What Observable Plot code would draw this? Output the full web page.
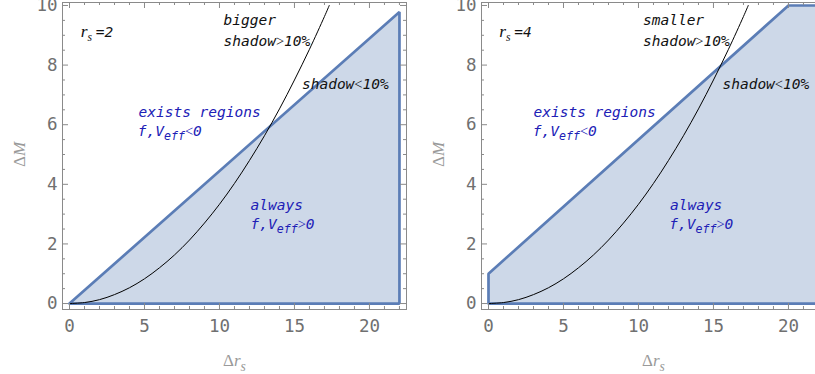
<!DOCTYPE html>
<html>
<head>
<meta charset="utf-8">
<script src="https://cdn.jsdelivr.net/npm/d3@7"></script>
<script src="https://cdn.jsdelivr.net/npm/@observablehq/plot@0.6"></script>
<style>
  html, body { margin: 0; padding: 0; background: #fff; }
  #wrap { position: relative; width: 815px; height: 374px; overflow: hidden; }
  .panel { position: absolute; top: 0; width: 410px; height: 374px; }
  .panel svg { overflow: visible; max-width: none !important; width: 410px; height: 374px; }
</style>
</head>
<body>
<div id="wrap">
  <div class="panel" id="left" style="left:0px"></div>
  <div class="panel" id="right" style="left:419px"></div>
</div>
<script>
// Axis ticks
const xMajor = [0, 5, 10, 15, 20];
const xMinor = [1, 2, 3, 4, 6, 7, 8, 9, 11, 12, 13, 14, 16, 17, 18, 19, 21, 22];
const yMajor = [0, 2, 4, 6, 8, 10];
const yMinor = [0.5, 1, 1.5, 2.5, 3, 3.5, 4.5, 5, 5.5, 6.5, 7, 7.5, 8.5, 9, 9.5];

// Allowed region boundary, r_s = 2
const leftRegionX = [0, 22, 22, 0];
const leftRegionY = [0, 9.78, 0, 0];
// Allowed region boundary, r_s = 4
const rightRegionX = [0, 0, 20, 22, 22, 0];
const rightRegionY = [0, 1, 10, 10, 0, 0];

// 10% shadow boundary curve
const curveX = [0, 1, 2, 3, 4, 5, 6, 7, 8, 9, 10, 11, 12, 13, 14, 15, 16, 17, 17.32];
const curveY = [0, 0.033, 0.13, 0.3, 0.53, 0.83, 1.2, 1.63, 2.13, 2.7, 3.33, 4.03, 4.8, 5.63, 6.53, 7.5, 8.53, 9.63, 10];

// Annotations ($..$ = italic math, ~..~ = upright math, _{..} = subscript)
const leftLabelText  = ["$r$_{$s$}~ ~=2", "bigger", "shadow~>~10%", "shadow~<~10%", "exists regions", "f,V_{eff}~<~0", "always", "f,V_{eff}~>~0"];
const leftLabelX     = [0.75, 10.27, 10.27, 15.5, 4.6, 4.55, 12.07, 12.07];
const leftLabelY     = [9.1, 9.5, 8.8, 7.35, 6.4, 5.77, 3.29, 2.65];
const rightLabelText = ["$r$_{$s$}~ ~=4", "smaller", "shadow~>~10%", "shadow~<~10%", "exists regions", "f,V_{eff}~<~0", "always", "f,V_{eff}~>~0"];
const rightLabelX    = [0.72, 10.3, 10.3, 15.6, 3.0, 2.95, 12.1, 12.05];
const rightLabelY    = [9.1, 9.5, 8.8, 7.35, 6.4, 5.77, 3.29, 2.65];
const labelColor     = ["#111", "#111", "#111", "#111", "#2020b6", "#2020b6", "#2020b6", "#2020b6"];

const xAxisLabel = "~Δ~$r$_{$s$}";
const yAxisLabel = "~Δ~$M$";

const W = 410, H = 374, mL = 62, mR = 4, mT = 2, mB = 65;
const innerW = W - mL - mR, innerH = H - mT - mB;
const frameColor = "#8a8a8a";
const mono = "DejaVu Sans Mono";
const serif = "Liberation Serif";

function zipPts(xs, ys) { return xs.map((x, i) => ({x, y: ys[i]})); }

function panel(regionX, regionY, labText, labX, labY) {
  const region = zipPts(regionX, regionY);
  const curve = zipPts(curveX, curveY);
  const labels = labText.map((t, i) => ({t, x: labX[i], y: labY[i], c: labelColor[i]}));
  return Plot.plot({
    width: W, height: H,
    marginLeft: mL, marginRight: mR, marginTop: mT, marginBottom: mB,
    x: {domain: [-0.467, 22.47]},
    y: {domain: [-0.2, 10.1]},
    style: {background: "transparent", fontFamily: mono},
    marks: [
      Plot.line(region, {x: "x", y: "y", fill: "#cdd8e8", stroke: "#5b7db6", strokeWidth: 2.7, strokeLinejoin: "miter", curve: "linear"}),
      Plot.line(curve, {x: "x", y: "y", stroke: "#000", strokeWidth: 1, curve: "catmull-rom"}),
      Plot.frame({stroke: frameColor, strokeWidth: 1}),
      // inward frame ticks
      Plot.ruleX(xMajor, {stroke: frameColor, insetTop: innerH - 6}),
      Plot.ruleX(xMinor, {stroke: frameColor, insetTop: innerH - 3}),
      Plot.ruleX(xMajor, {stroke: frameColor, insetBottom: innerH - 6}),
      Plot.ruleX(xMinor, {stroke: frameColor, insetBottom: innerH - 3}),
      Plot.ruleY(yMajor, {stroke: frameColor, insetRight: innerW - 6}),
      Plot.ruleY(yMinor, {stroke: frameColor, insetRight: innerW - 3}),
      Plot.ruleY(yMajor, {stroke: frameColor, insetLeft: innerW - 6}),
      Plot.ruleY(yMinor, {stroke: frameColor, insetLeft: innerW - 3}),
      Plot.axisX({ticks: xMajor, tickSize: 0, tickPadding: 10, label: null, fontSize: 17.5, fontFamily: mono, fill: "#707070"}),
      Plot.axisY({ticks: yMajor, tickSize: 0, tickPadding: 5, label: null, fontSize: 17.5, fontFamily: mono, fill: "#707070"}),
      Plot.text(labels, {x: "x", y: "y", text: "t", fill: "c", textAnchor: "start", fontFamily: mono, fontStyle: "italic", fontSize: 14.5}),
      Plot.text([xAxisLabel], {x: 11.0, y: -1.9, fill: "#9a9a9a", fontFamily: serif, fontSize: 17}),
      Plot.text([yAxisLabel], {x: -3.3, y: 5, rotate: -90, fill: "#9a9a9a", fontFamily: serif, fontSize: 17})
    ]
  });
}

// Turn the small markup in text marks into styled tspans
function richText(svg) {
  d3.select(svg).selectAll('g[aria-label="text"] text').each(function () {
    const s = this.textContent;
    if (!/[$~_]/.test(s)) return;
    const size = parseFloat(d3.select(this.parentNode).attr("font-size") || this.getAttribute("font-size") || 14);
    const isAnnotation = size < 16;
    const mathSize = isAnnotation ? size * 1.2 : size;
    const el = d3.select(this);
    el.text(null);
    const tokens = s.split(/(\$[^$]+\$|~[^~]+~|_\{[^}]+\})/).filter(Boolean);
    const shift = Math.round(size * 0.28);
    let lowered = false;
    const styleSeg = (ts, tok, sub) => {
      if (tok.startsWith("$")) {
        ts.attr("font-family", serif).attr("font-style", "italic").text(tok.slice(1, -1));
        if (!sub) ts.attr("font-size", mathSize);
      } else if (tok.startsWith("~")) {
        ts.attr("font-family", serif).attr("font-style", "normal").text(tok.slice(1, -1));
      } else {
        ts.text(tok);
      }
    };
    for (const tok of tokens) {
      const ts = el.append("tspan");
      if (tok.startsWith("_{")) {
        ts.attr("dy", shift).attr("font-size", size * 0.8);
        styleSeg(ts, tok.slice(2, -1), true);
        lowered = true;
      } else {
        if (lowered) { ts.attr("dy", -shift); lowered = false; }
        styleSeg(ts, tok, false);
      }
    }
  });
  return svg;
}

document.getElementById("left").appendChild(richText(panel(leftRegionX, leftRegionY, leftLabelText, leftLabelX, leftLabelY)));
document.getElementById("right").appendChild(richText(panel(rightRegionX, rightRegionY, rightLabelText, rightLabelX, rightLabelY)));
</script>
</body>
</html>
